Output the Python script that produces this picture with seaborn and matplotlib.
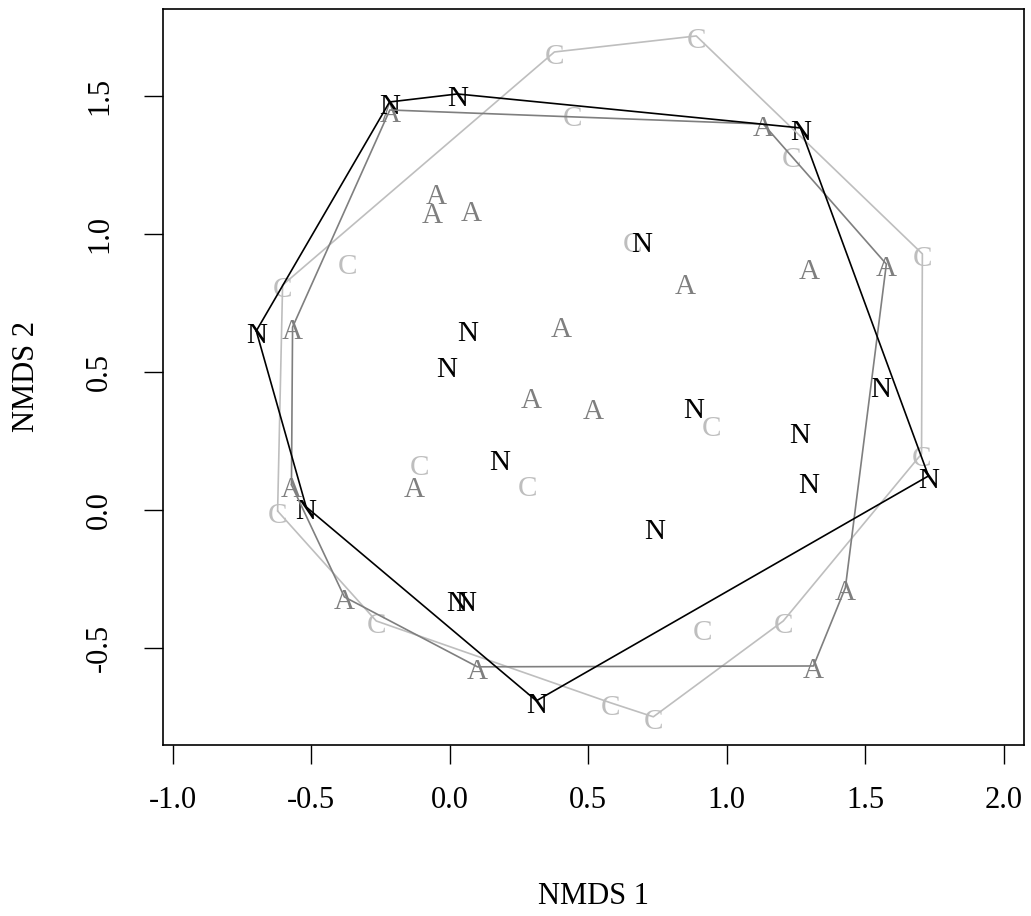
import numpy as np
import pandas as pd
import matplotlib
matplotlib.use("Agg")
import matplotlib.pyplot as plt
import matplotlib.transforms as mtransforms
import seaborn as sns

# NMDS site scores, one pair of arrays per treatment group
n_x = [-0.217, 0.028, 1.266, -0.698, 0.064, -0.012, 0.692, 1.555, 0.880,
       1.262, 1.295, 1.728, 0.180, 0.739, -0.518, 0.025, 0.057, 0.313]
n_y = [1.478, 1.507, 1.384, 0.649, 0.656, 0.526, 0.978, 0.453, 0.377,
       0.287, 0.106, 0.124, 0.189, -0.060, 0.012, -0.321, -0.321, -0.690]

a_x = [-0.216, -0.048, -0.062, 0.079, -0.567, 0.403, 0.851, 1.132, 1.298,
       1.576, 0.295, 0.519, -0.127, -0.571, -0.380, 0.100, 1.313, 1.428]
a_y = [1.449, 1.152, 1.083, 1.090, 0.663, 0.671, 0.826, 1.398, 0.881,
       0.891, 0.414, 0.374, 0.092, 0.092, -0.314, -0.567, -0.564, -0.281]

c_x = [0.378, 0.890, 0.443, 1.233, 0.660, 1.706, -0.369, -0.603, -0.109,
       0.281, -0.621, -0.265, 0.580, 0.735, 0.912, 1.204, 1.703, 0.944]
c_y = [1.659, 1.717, 1.434, 1.286, 0.978, 0.928, 0.899, 0.815, 0.171,
       0.095, -0.003, -0.401, -0.697, -0.748, -0.426, -0.401, 0.204, 0.312]

groups = ["C", "A", "N"]
group_colors = {"N": "#000000", "A": "#7F7F7F", "C": "#BEBEBE"}

x_ticks = [-1.0, -0.5, 0.0, 0.5, 1.0, 1.5, 2.0]
y_ticks = [-0.5, 0.0, 0.5, 1.0, 1.5]

scores = pd.concat([
    pd.DataFrame({"NMDS1": n_x, "NMDS2": n_y, "group": "N"}),
    pd.DataFrame({"NMDS1": a_x, "NMDS2": a_y, "group": "A"}),
    pd.DataFrame({"NMDS1": c_x, "NMDS2": c_y, "group": "C"}),
], ignore_index=True)


def convex_hull(pts):
    """Monotone-chain convex hull, returned as a closed ring."""
    pts = sorted(set(map(tuple, pts)))

    def cross(o, a, b):
        return (a[0] - o[0]) * (b[1] - o[1]) - (a[1] - o[1]) * (b[0] - o[0])

    lower, upper = [], []
    for p in pts:
        while len(lower) >= 2 and cross(lower[-2], lower[-1], p) <= 0:
            lower.pop()
        lower.append(p)
    for p in reversed(pts):
        while len(upper) >= 2 and cross(upper[-2], upper[-1], p) <= 0:
            upper.pop()
        upper.append(p)
    ring = lower[:-1] + upper[:-1]
    return ring + [ring[0]]


hull_frames = []
for g in groups:
    sub = scores[scores["group"] == g]
    ring = convex_hull(sub[["NMDS1", "NMDS2"]].values)
    hull_frames.append(pd.DataFrame(ring, columns=["NMDS1", "NMDS2"]).assign(group=g))
hulls = pd.concat(hull_frames, ignore_index=True)

sns.set_style("white")
plt.rcParams["font.family"] = ["Liberation Serif", "DejaVu Serif"]
plt.rcParams["axes.unicode_minus"] = False

fig = plt.figure(figsize=(10.31, 9.16), dpi=100)
ax = fig.add_axes([0.158, 0.187, 0.835, 0.803])

# site labels, centred on each score
label_tf = mtransforms.offset_copy(ax.transData, fig=fig, x=0, y=-3.5, units="points")
for g in groups:
    sub = scores[scores["group"] == g]
    for xv, yv in zip(sub["NMDS1"], sub["NMDS2"]):
        ax.text(xv, yv, g, color=group_colors[g], fontsize=21,
                ha="center", va="center", transform=label_tf, zorder=2)

# convex hulls around each group
sns.lineplot(data=hulls, x="NMDS1", y="NMDS2", hue="group", hue_order=groups,
             palette=group_colors, sort=False, estimator=None, legend=False,
             linewidth=1.2, ax=ax, zorder=3)

ax.set_xlim(-1.035, 2.072)
ax.set_ylim(-0.849, 1.814)
ax.set_xticks(x_ticks)
ax.set_yticks(y_ticks)
ax.set_xticklabels([f"{t:.1f}" for t in x_ticks])
ax.set_yticklabels([f"{t:.1f}" for t in y_ticks], rotation=90, va="center")

for s in ax.spines.values():
    s.set_visible(True)
    s.set_color("black")
    s.set_linewidth(1.2)

ax.tick_params(axis="both", which="both", direction="out", length=14, width=1.0,
               color="black", labelsize=22, labelcolor="black",
               bottom=True, left=True, top=False, right=False)
ax.tick_params(axis="x", pad=16)
ax.tick_params(axis="y", pad=21)

ax.set_xlabel("NMDS 1", fontsize=22, color="black")
ax.set_ylabel("NMDS 2", fontsize=22, color="black")
ax.xaxis.set_label_coords(0.5, -0.2065)
ax.xaxis.label.set_va("center")
ax.yaxis.set_label_coords(-0.158, 0.5)
ax.yaxis.label.set_va("center")

fig.savefig("out.png", dpi=100, facecolor="white")
